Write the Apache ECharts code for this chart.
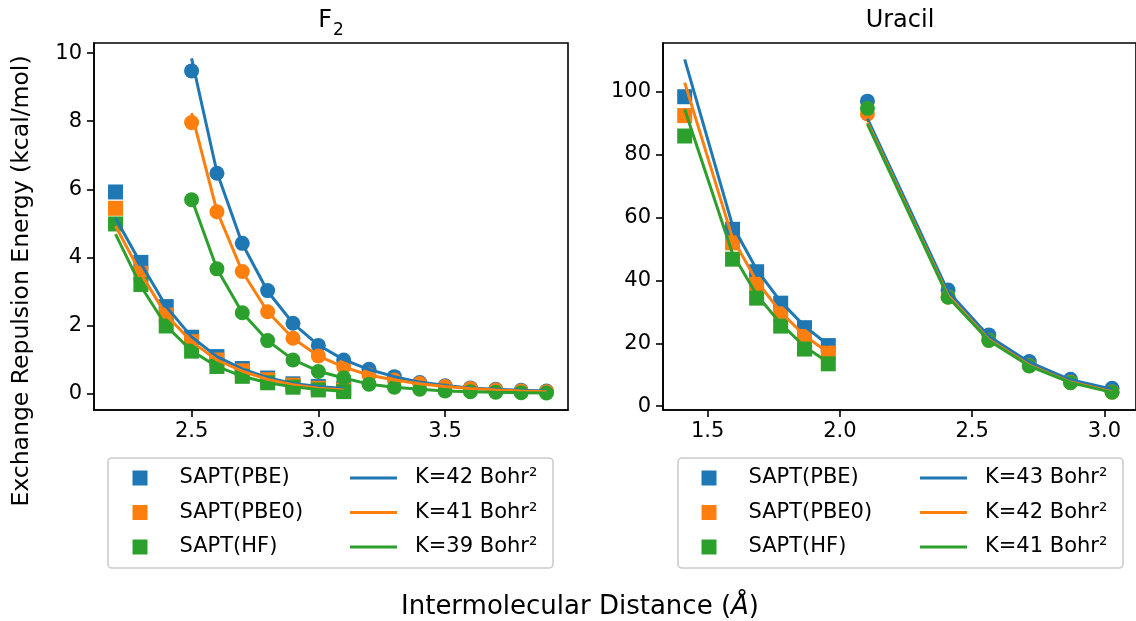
<!DOCTYPE html>
<html>
<head>
<meta charset="utf-8">
<script src="https://cdn.jsdelivr.net/npm/echarts@6/dist/echarts.min.js"></script>
<style>
html,body{margin:0;padding:0;background:#fff;}
#chart{width:1136px;height:621px;}
</style>
</head>
<body>
<div id="chart"></div>
<script>
// ---------------- DATA ----------------
// F2 panel: short-range (squares) branch
const f2SqX     = [2.2, 2.3, 2.4, 2.5, 2.6, 2.7, 2.8, 2.9, 3.0, 3.1];
const f2SqPBE   = [5.92, 3.85, 2.55, 1.65, 1.08, 0.73, 0.45, 0.28, 0.20, 0.15];
const f2SqPBE0  = [5.44, 3.53, 2.30, 1.52, 0.98, 0.66, 0.40, 0.24, 0.15, 0.10];
const f2SqHF    = [4.98, 3.20, 1.98, 1.24, 0.79, 0.50, 0.31, 0.18, 0.10, 0.05];
const f2SqK42   = [5.15, 3.82, 2.55, 1.66, 1.08, 0.72, 0.46, 0.29, 0.20, 0.14];
const f2SqK41   = [4.92, 3.52, 2.30, 1.52, 0.98, 0.65, 0.41, 0.25, 0.15, 0.10];
const f2SqK39   = [4.68, 3.15, 1.98, 1.25, 0.79, 0.50, 0.31, 0.19, 0.11, 0.06];
// F2 panel: circles branch
const f2CiX     = [2.5, 2.6, 2.7, 2.8, 2.9, 3.0, 3.1, 3.2, 3.3, 3.4, 3.5, 3.6, 3.7, 3.8, 3.9];
const f2CiPBE   = [9.48, 6.47, 4.41, 3.02, 2.06, 1.41, 0.98, 0.71, 0.49, 0.32, 0.22, 0.16, 0.12, 0.09, 0.07];
const f2CiPBE0  = [7.96, 5.34, 3.58, 2.40, 1.62, 1.10, 0.78, 0.54, 0.39, 0.29, 0.20, 0.14, 0.10, 0.07, 0.05];
const f2CiHF    = [5.69, 3.66, 2.37, 1.55, 0.98, 0.64, 0.46, 0.27, 0.18, 0.12, 0.07, 0.05, 0.03, 0.02, 0.01];
const f2CiK42   = [9.85, 6.50, 4.40, 3.00, 2.06, 1.42, 0.99, 0.70, 0.49, 0.33, 0.23, 0.16, 0.12, 0.09, 0.07];
const f2CiK41   = [8.24, 5.36, 3.58, 2.40, 1.62, 1.10, 0.77, 0.54, 0.39, 0.28, 0.20, 0.14, 0.10, 0.07, 0.05];
const f2CiK39   = [5.72, 3.66, 2.37, 1.55, 0.99, 0.65, 0.45, 0.27, 0.18, 0.12, 0.07, 0.05, 0.03, 0.02, 0.01];
// Uracil panel: squares branch
const urSqX     = [1.413, 1.594, 1.685, 1.776, 1.866, 1.956];
const urSqPBE   = [98.5, 56.3, 42.8, 32.8, 25.0, 19.3];
const urSqPBE0  = [92.5, 52.0, 38.8, 29.4, 22.2, 16.9];
const urSqHF    = [86.0, 46.8, 34.4, 25.5, 18.2, 13.5];
const urSqK43   = [110.4, 57.5, 43.5, 33.3, 25.5, 19.5];
const urSqK42   = [103.0, 53.5, 39.8, 30.0, 22.5, 17.0];
const urSqK41   = [94.5, 48.5, 35.5, 26.3, 19.0, 13.9];
// Uracil panel: circles branch
const urCiX     = [2.104, 2.409, 2.563, 2.716, 2.872, 3.029];
const urCiPBE   = [97.1, 37.0, 22.7, 14.2, 8.6, 5.7];
const urCiPBE0  = [93.0, 34.8, 21.0, 12.9, 7.6, 4.5];
const urCiHF    = [94.8, 34.7, 20.9, 12.8, 7.5, 4.45];
const urCiK43   = [91.5, 36.5, 22.3, 14.0, 8.4, 5.4];
const urCiK42   = [90.3, 35.2, 21.2, 13.1, 7.7, 4.6];
const urCiK41   = [89.8, 34.7, 20.9, 12.8, 7.5, 4.4];
// Ticks
const f2XTicks = [2.5, 3.0, 3.5];
const f2YTicks = [0, 2, 4, 6, 8, 10];
const urXTicks = [1.5, 2.0, 2.5, 3.0];
const urYTicks = [0, 20, 40, 60, 80, 100];
// Labels
const saptNames = ['SAPT(PBE)', 'SAPT(PBE0)', 'SAPT(HF)'];
const f2KNames = ['K=42 Bohr²', 'K=41 Bohr²', 'K=39 Bohr²'];
const urKNames = ['K=43 Bohr²', 'K=42 Bohr²', 'K=41 Bohr²'];
const titles = ['{a|F}{s|2}', '{a|Uracil}'];
const yTitle = 'Exchange Repulsion Energy (kcal/mol)';
const xTitle = '{a|Intermolecular Distance (}{i|Å}{a|)}';

// ---------------- STYLE ----------------
const COLORS = ['#1f77b4', '#ff7f0e', '#2ca02c'];
const FONT = '"DejaVu Sans", "Liberation Sans", sans-serif';
const FS = 21;
const zip = (xs, ys) => xs.map((x, i) => [x, ys[i]]);

function scatter(name, gi, xs, ys, sym, ci) {
  return { type: 'scatter', name: name, xAxisIndex: gi, yAxisIndex: gi, symbol: sym,
    symbolSize: 15, itemStyle: { color: COLORS[ci], opacity: 1 }, data: zip(xs, ys), z: 2,
    emphasis: { disabled: true }, silent: true };
}
function fitLine(name, gi, xs, ys, ci) {
  return { type: 'line', name: name, xAxisIndex: gi, yAxisIndex: gi, symbol: 'none', showSymbol: false,
    lineStyle: { width: 3, color: COLORS[ci] }, itemStyle: { color: COLORS[ci] }, data: zip(xs, ys), z: 3,
    emphasis: { disabled: true }, silent: true };
}

const series = [
  // F2
  scatter(saptNames[0], 0, f2SqX, f2SqPBE, 'rect', 0),
  scatter(saptNames[0], 0, f2CiX, f2CiPBE, 'circle', 0),
  fitLine('L|' + f2KNames[0], 0, f2SqX, f2SqK42, 0),
  fitLine('L|' + f2KNames[0], 0, f2CiX, f2CiK42, 0),
  scatter(saptNames[1], 0, f2SqX, f2SqPBE0, 'rect', 1),
  scatter(saptNames[1], 0, f2CiX, f2CiPBE0, 'circle', 1),
  fitLine('L|' + f2KNames[1], 0, f2SqX, f2SqK41, 1),
  fitLine('L|' + f2KNames[1], 0, f2CiX, f2CiK41, 1),
  scatter(saptNames[2], 0, f2SqX, f2SqHF, 'rect', 2),
  scatter(saptNames[2], 0, f2CiX, f2CiHF, 'circle', 2),
  fitLine('L|' + f2KNames[2], 0, f2SqX, f2SqK39, 2),
  fitLine('L|' + f2KNames[2], 0, f2CiX, f2CiK39, 2),
  // Uracil
  scatter(saptNames[0], 1, urSqX, urSqPBE, 'rect', 0),
  scatter(saptNames[0], 1, urCiX, urCiPBE, 'circle', 0),
  fitLine('R|' + urKNames[0], 1, urSqX, urSqK43, 0),
  fitLine('R|' + urKNames[0], 1, urCiX, urCiK43, 0),
  scatter(saptNames[1], 1, urSqX, urSqPBE0, 'rect', 1),
  scatter(saptNames[1], 1, urCiX, urCiPBE0, 'circle', 1),
  fitLine('R|' + urKNames[1], 1, urSqX, urSqK42, 1),
  fitLine('R|' + urKNames[1], 1, urCiX, urCiK42, 1),
  scatter(saptNames[2], 1, urSqX, urSqHF, 'rect', 2),
  scatter(saptNames[2], 1, urCiX, urCiHF, 'circle', 2),
  fitLine('R|' + urKNames[2], 1, urSqX, urSqK41, 2),
  fitLine('R|' + urKNames[2], 1, urCiX, urCiK41, 2)
];

function xAxis(gi, min, max, ticks) {
  return { gridIndex: gi, type: 'value', min: min, max: max,
    axisLine: { show: true, onZero: false, lineStyle: { color: '#000', width: 1.6 } },
    axisTick: { show: true, length: 7, customValues: ticks, lineStyle: { color: '#000', width: 1.6 } },
    axisLabel: { customValues: ticks, formatter: v => Number(v).toFixed(1), fontSize: FS, fontFamily: FONT, color: '#000', margin: 11 },
    splitLine: { show: false } };
}
function yAxis(gi, min, max, ticks) {
  return { gridIndex: gi, type: 'value', min: min, max: max,
    axisLine: { show: true, onZero: false, lineStyle: { color: '#000', width: 1.6 } },
    axisTick: { show: true, length: 7, customValues: ticks, lineStyle: { color: '#000', width: 1.6 } },
    axisLabel: { customValues: ticks, formatter: v => String(Math.round(v)), fontSize: FS, fontFamily: FONT, color: '#000', margin: 12 },
    splitLine: { show: false } };
}

function legTS(gap) {
  return { fontSize: FS, fontFamily: FONT, color: '#000', lineHeight: 24,
    rich: { g: { width: gap, fontSize: FS, fontFamily: FONT, lineHeight: 24 },
            t: { fontSize: FS, fontFamily: FONT, color: '#000', lineHeight: 24 } } };
}
function sqLegend(left) {
  return { left: left, top: 466, orient: 'vertical', padding: 0, itemGap: 10.5, itemWidth: 15, itemHeight: 15,
    selectedMode: false, textStyle: legTS(27), formatter: n => '{g| }{t|' + n + '}',
    data: saptNames.map(n => ({ name: n, icon: 'rect' })) };
}
function lnLegend(left, names, prefix) {
  return { left: left, top: 466, orient: 'vertical', padding: 0, itemGap: 10.5, itemWidth: 47, itemHeight: 3,
    selectedMode: false, textStyle: legTS(13), formatter: n => '{g| }{t|' + n.slice(2) + '}',
    data: names.map(n => ({ name: prefix + n, icon: 'rect' })) };
}

const TFS = 24;
const titleRich = { a: { fontSize: TFS, fontFamily: FONT, color: '#000', lineHeight: 30 },
                    s: { fontSize: 17, fontFamily: FONT, color: '#000', lineHeight: 17, verticalAlign: 'bottom', padding: [0, 0, -3, 1] } };
const titleText = (x, s) => ({ type: 'text', x: x, y: 21,
  style: { text: s, rich: titleRich, fill: '#000', align: 'center', verticalAlign: 'middle', fontSize: TFS, fontFamily: FONT } });

const option = {
  animation: false,
  backgroundColor: '#fff',
  grid: [
    { left: 94, top: 43, width: 474, height: 367, show: true, borderColor: '#000', borderWidth: 1.6, backgroundColor: 'transparent' },
    { left: 663, top: 43, width: 477, height: 367, show: true, borderColor: '#000', borderWidth: 1.6, backgroundColor: 'transparent' }
  ],
  xAxis: [ xAxis(0, 2.115, 3.985, f2XTicks), xAxis(1, 1.331, 1.331 + 477 / 266.7, urXTicks) ],
  yAxis: [ yAxis(0, -0.49, 10.3, f2YTicks), yAxis(1, -1.2, 115.6, urYTicks) ],
  legend: [ sqLegend(132.5), lnLegend(350, f2KNames, 'L|'), sqLegend(701.5), lnLegend(920, urKNames, 'R|') ],
  graphic: [
    { type: 'rect', z: 0, shape: { x: 108, y: 458, width: 445, height: 110, r: 4 },
      style: { fill: 'rgba(255,255,255,0.8)', stroke: '#cccccc', lineWidth: 1.6 } },
    { type: 'rect', z: 0, shape: { x: 678, y: 458, width: 445, height: 110, r: 4 },
      style: { fill: 'rgba(255,255,255,0.8)', stroke: '#cccccc', lineWidth: 1.6 } },
    titleText(331, titles[0]),
    titleText(900, titles[1]),
    { type: 'text', x: 22, y: 281, rotation: Math.PI / 2,
      style: { text: yTitle, fontSize: 23.5, fontFamily: FONT, fill: '#000', align: 'center', verticalAlign: 'middle' } },
    { type: 'text', x: 580, y: 607,
      style: { text: xTitle, fill: '#000', align: 'center', verticalAlign: 'middle', fontSize: 26, fontFamily: FONT,
        rich: { a: { fontSize: 26, fontFamily: FONT, color: '#000' }, i: { fontSize: 26, fontFamily: FONT, fontStyle: 'italic', color: '#000' } } } }
  ],
  series: series
};

const chart = echarts.init(document.getElementById('chart'), null, { renderer: 'canvas' });
chart.setOption(option);
</script>
</body>
</html>
